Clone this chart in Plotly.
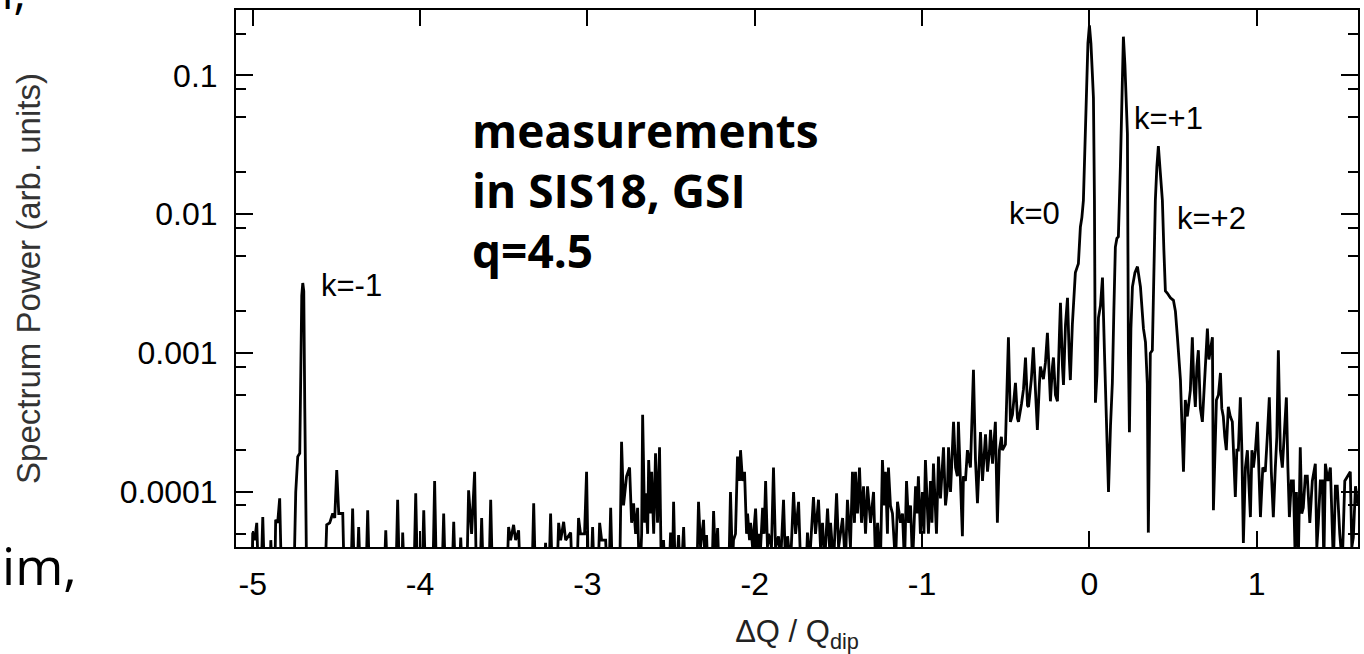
import math
import plotly.graph_objects as go

# ---------------- data ----------------
dq_far = [-5.100, -5.006, -5.000, -4.988, -4.976, -4.964, -4.952, -4.940, -4.928, -4.898,
          -4.892, -4.880, -4.869, -4.863, -4.851, -4.839, -4.827, -4.755, -4.743, -4.731,
          -4.719, -4.707, -4.701, -4.695, -4.689, -4.677, -4.570, -4.558, -4.540, -4.522,
          -4.510, -4.498, -4.486, -4.462, -4.452, -4.415, -4.403, -4.391, -4.379, -4.367,
          -4.355, -4.325, -4.313, -4.301, -4.217, -4.205, -4.193, -4.146, -4.134, -4.122,
          -4.110, -4.104, -4.092, -4.038, -4.026, -4.014, -3.990, -3.978, -3.966, -3.925,
          -3.913, -3.901, -3.871, -3.859, -3.847, -3.811, -3.799, -3.787, -3.769, -3.757,
          -3.745, -3.722, -3.710, -3.698, -3.692, -3.674, -3.662, -3.644, -3.632, -3.620,
          -3.590, -3.578, -3.566, -3.483, -3.471, -3.459, -3.441, -3.429, -3.411, -3.399,
          -3.333, -3.321, -3.309, -3.262, -3.250, -3.238, -3.232, -3.220, -3.208, -3.184,
          -3.172, -3.160, -3.142, -3.130, -3.100, -3.088, -3.065, -3.053, -3.041, -3.017,
          -3.005, -2.993, -2.981, -2.969, -2.957, -2.939, -2.927, -2.915, -2.891, -2.879,
          -2.873, -2.861, -2.849, -2.808, -2.796, -2.784, -2.766, -2.748, -2.736, -2.724,
          -2.712, -2.700, -2.688, -2.676, -2.670, -2.658, -2.652, -2.640, -2.634, -2.622,
          -2.616, -2.604, -2.593, -2.581, -2.569, -2.557, -2.545, -2.533]
pw_far = [2e-5, 2e-5, 5.1e-5, 4.5e-5, 6.0e-5, 2e-5, 2e-5, 6.6e-5, 2e-5, 2e-5,
          4.5e-5, 2e-5, 2e-5, 6.3e-5, 6.0e-5, 9.0e-5, 2e-5, 2e-5, 1.0e-4, 1.8e-4,
          1.9e-4, 2.6e-3, 3.2e-3, 2.8e-3, 4e-4, 2e-5, 2e-5, 5.8e-5, 6.0e-5, 7.0e-5,
          6.5e-5, 1.44e-4, 7e-5, 7e-5, 2e-5, 2e-5, 7.6e-5, 2e-5, 2e-5, 5.6e-5,
          2e-5, 2e-5, 7.4e-5, 2e-5, 2e-5, 5.3e-5, 2e-5, 2e-5, 8.8e-5, 2e-5,
          2e-5, 5.1e-5, 2e-5, 2e-5, 9.8e-5, 2e-5, 2e-5, 7.4e-5, 2e-5, 2e-5,
          1.2e-4, 2e-5, 2e-5, 7.0e-5, 2e-5, 2e-5, 6.1e-5, 2e-5, 2e-5, 4.7e-5,
          2e-5, 2e-5, 1.03e-4, 6e-5, 5e-5, 1.4e-4, 2e-5, 2e-5, 6.5e-5, 2e-5,
          2e-5, 8.8e-5, 2e-5, 2e-5, 5.6e-5, 4.5e-5, 5.8e-5, 4.5e-5, 5.3e-5, 2e-5,
          2e-5, 8.3e-5, 2e-5, 2e-5, 4.3e-5, 2e-5, 2e-5, 7.0e-5, 2e-5, 2e-5,
          6.0e-5, 4.5e-5, 6.1e-5, 4.5e-5, 5.1e-5, 2e-5, 2e-5, 6.5e-5, 5e-5, 5e-5,
          1.4e-4, 2e-5, 2e-5, 5.6e-5, 2e-5, 2e-5, 6e-5, 4.5e-5, 4.5e-5, 2e-5,
          2e-5, 7.7e-5, 2e-5, 2e-5, 2.3e-4, 8e-5, 1.3e-4, 1.5e-4, 6e-5, 8.3e-5,
          5e-5, 7.7e-5, 2e-5, 5e-5, 3.6e-4, 6e-5, 9.8e-5, 5e-5, 1.7e-4, 7e-5,
          1.4e-4, 5e-5, 1.9e-4, 6e-5, 2.1e-4, 2e-5, 4.5e-5, 2e-5]

dq_mid = [-2.515, -2.503, -2.491, -2.485, -2.473, -2.455, -2.443, -2.425, -2.413, -2.348,
          -2.336, -2.324, -2.306, -2.297, -2.288, -2.276, -2.258, -2.246, -2.234, -2.222,
          -2.210, -2.157, -2.145, -2.133, -2.127, -2.115, -2.103, -2.091, -2.085, -2.073,
          -2.061, -2.049, -2.043, -2.031, -2.025, -2.013, -1.995, -1.983, -1.977, -1.965,
          -1.953, -1.944, -1.935, -1.924, -1.918, -1.900, -1.888, -1.876, -1.858, -1.846,
          -1.828, -1.816, -1.804, -1.786, -1.768, -1.756, -1.738, -1.726, -1.697, -1.685,
          -1.673, -1.649, -1.637, -1.619, -1.607, -1.595, -1.583, -1.565, -1.553, -1.547,
          -1.529, -1.511, -1.499, -1.475, -1.458, -1.446, -1.428, -1.416, -1.404, -1.398,
          -1.386, -1.374, -1.362, -1.350, -1.338, -1.326, -1.308, -1.290, -1.278, -1.266,
          -1.249, -1.237, -1.225, -1.219, -1.207, -1.201, -1.189, -1.177, -1.159, -1.147,
          -1.129, -1.117, -1.105, -1.093, -1.081, -1.069, -1.057, -1.039, -1.030, -1.022,
          -1.010, -0.998, -0.989, -0.980, -0.968, -0.962, -0.950, -0.941, -0.932, -0.920,
          -0.914, -0.902, -0.890, -0.872, -0.860, -0.848, -0.842, -0.830, -0.812, -0.800,
          -0.789, -0.783, -0.771, -0.759, -0.753, -0.741, -0.729, -0.711, -0.693, -0.681,
          -0.669, -0.657, -0.651, -0.639, -0.627, -0.621, -0.609, -0.597, -0.591, -0.579,
          -0.562, -0.550, -0.538, -0.526, -0.520, -0.502, -0.484, -0.472, -0.460, -0.442,
          -0.430, -0.424, -0.406, -0.394, -0.382, -0.370, -0.364, -0.347, -0.335, -0.323,
          -0.311, -0.299, -0.293, -0.275, -0.263, -0.251, -0.239, -0.233, -0.221, -0.215,
          -0.203, -0.191, -0.179, -0.173, -0.161, -0.155, -0.143, -0.131, -0.120]
pw_mid = [2e-5, 5.1e-5, 3e-5, 8.5e-5, 2e-5, 4.9e-5, 2e-5, 5.6e-5, 2e-5, 2e-5,
          8.5e-5, 4e-5, 6.3e-5, 3e-5, 4.9e-5, 2e-5, 2e-5, 7.3e-5, 3e-5, 5.5e-5,
          2e-5, 2e-5, 1.0e-4, 3e-5, 4.5e-5, 5e-5, 1.8e-4, 1.2e-4, 2.0e-4, 1.2e-4,
          1.4e-4, 5e-5, 7e-5, 4.5e-5, 6e-5, 4e-5, 7.6e-5, 3.5e-5, 5e-5, 4e-5,
          7.7e-5, 5e-5, 1.2e-4, 4e-5, 5e-5, 4e-5, 1.5e-4, 4e-5, 4.8e-5, 3e-5,
          8.8e-5, 3e-5, 4.8e-5, 3e-5, 1.0e-4, 5e-5, 8.5e-5, 3e-5, 2e-5, 5.1e-5,
          3e-5, 9.2e-5, 5e-5, 8.8e-5, 4e-5, 6e-5, 3e-5, 7.6e-5, 4e-5, 6e-5,
          3e-5, 9.8e-5, 4e-5, 6.5e-5, 3e-5, 8.8e-5, 4e-5, 1.4e-4, 6e-5, 1.4e-4,
          7e-5, 1.5e-4, 6e-5, 1.1e-4, 5e-5, 1.1e-4, 6e-5, 1.0e-4, 3e-5, 6e-5,
          3e-5, 1.7e-4, 8e-5, 1.4e-4, 5e-5, 1.5e-4, 8e-5, 7e-5, 3e-5, 8.5e-5,
          6e-5, 7e-5, 3e-5, 1.2e-4, 6e-5, 8e-5, 3e-5, 1.1e-4, 7e-5, 1.3e-4,
          5e-5, 1.0e-4, 5e-5, 1.7e-4, 8e-5, 5e-5, 1.2e-4, 6e-5, 1.6e-4, 7e-5,
          5e-5, 1.8e-4, 9e-5, 2.1e-4, 8e-5, 1.1e-4, 2.1e-4, 1.0e-4, 3.2e-4, 1.5e-4,
          1.3e-4, 3.2e-4, 1.2e-4, 4.8e-5, 1.3e-4, 1.2e-4, 2.0e-4, 1.5e-4, 7.6e-4, 1.7e-4,
          8.3e-5, 2.0e-4, 2.7e-4, 1.2e-4, 2.3e-4, 2.6e-4, 1.4e-4, 2.0e-4, 2.8e-4, 1.6e-4,
          3.2e-4, 6e-5, 2.0e-4, 2.5e-4, 2.0e-4, 2.2e-4, 1.3e-3, 3.2e-4, 3.6e-4, 6.1e-4,
          3.4e-4, 3.2e-4, 4.3e-4, 5.5e-4, 9.3e-4, 4.2e-4, 4.1e-4, 6.5e-4, 1.1e-3, 5.0e-4,
          2.8e-4, 6.0e-4, 8.0e-4, 6.5e-4, 8.5e-4, 1.4e-3, 6.0e-4, 4.5e-4, 8.0e-4, 9.3e-4,
          5.0e-4, 4.5e-4, 1.4e-3, 2.3e-3, 8.0e-4, 5.9e-4, 1.6e-3, 2.5e-3, 9.0e-4]

dq_core = [-0.114, -0.102, -0.090, -0.084, -0.072, -0.066, -0.054, -0.045, -0.036, -0.027,
           -0.018, -0.009, 0.000, 0.009, 0.018, 0.024, 0.030, 0.033, 0.036, 0.045,
           0.054, 0.066, 0.078, 0.090, 0.102, 0.114, 0.126, 0.137, 0.146, 0.155,
           0.164, 0.173, 0.185, 0.194, 0.203, 0.212, 0.221, 0.227, 0.233, 0.239,
           0.248, 0.257, 0.272, 0.287, 0.305, 0.323, 0.335, 0.346, 0.352, 0.364,
           0.376, 0.388, 0.394, 0.403, 0.412, 0.421, 0.436, 0.445, 0.454, 0.466,
           0.484, 0.502, 0.514, 0.526, 0.544, 0.562, 0.573, 0.585]
pw_core = [6.4e-4, 1.6e-3, 3.0e-3, 3.8e-3, 4.2e-3, 4.4e-3, 8.1e-3, 9.5e-3, 0.0126, 0.030,
           0.088, 0.17, 0.229, 0.17, 0.10, 0.069, 0.0126, 2.5e-3, 4.4e-4, 7e-4,
           1.8e-3, 2.2e-3, 3.5e-3, 1.0e-3, 3.0e-4, 1.0e-4, 3.0e-4, 6.1e-4, 2.0e-3, 5.8e-3,
           6.7e-3, 6.9e-3, 0.022, 0.09, 0.19, 0.12, 0.06, 0.038, 1.0e-3, 2.7e-4,
           1.5e-3, 3.0e-3, 3.8e-3, 4.2e-3, 3.0e-3, 1.5e-3, 1.2e-3, 6.0e-4, 5.1e-5, 1.0e-3,
           1.05e-3, 5.5e-3, 0.0126, 0.022, 0.031, 0.022, 0.0126, 5.5e-3, 2.8e-3, 2.7e-3,
           2.5e-3, 2.4e-3, 2.0e-3, 1.3e-3, 6.4e-4, 1.4e-4, 4.6e-4, 3.5e-4]

dq_tail = [0.603, 0.615, 0.624, 0.633, 0.642, 0.651, 0.663, 0.675, 0.684, 0.693,
           0.705, 0.714, 0.723, 0.735, 0.741, 0.750, 0.759, 0.771, 0.783, 0.791,
           0.800, 0.809, 0.818, 0.830, 0.842, 0.854, 0.863, 0.872, 0.881, 0.890,
           0.902, 0.911, 0.920, 0.932, 0.944, 0.953, 0.962, 0.971, 0.980, 0.992,
           1.004, 1.013, 1.022, 1.036, 1.051, 1.063, 1.075, 1.087, 1.099, 1.111,
           1.120, 1.129, 1.141, 1.153, 1.165, 1.177, 1.186, 1.195, 1.207, 1.219,
           1.228, 1.237, 1.248, 1.260, 1.269, 1.278, 1.290, 1.302, 1.317, 1.332,
           1.350, 1.359, 1.368, 1.380, 1.392, 1.401, 1.410, 1.425, 1.440, 1.452,
           1.458, 1.470, 1.481, 1.496, 1.511, 1.526, 1.541, 1.559, 1.568, 1.577,
           1.590, 1.605]
pw_tail = [5.4e-4, 1.3e-3, 6.0e-4, 4.1e-4, 8.0e-4, 1.05e-3, 4.0e-4, 3.2e-4, 5.0e-4, 6.8e-4,
           1.5e-3, 9.0e-4, 1.05e-3, 1.3e-3, 7.4e-5, 2.5e-4, 4.6e-4, 5.0e-4, 7.2e-4, 4.0e-4,
           3.5e-4, 2.5e-4, 2.0e-4, 4.1e-4, 3.5e-4, 3.2e-4, 1.5e-4, 9.2e-5, 2.0e-4, 2.0e-4,
           4.8e-4, 2.0e-4, 4.3e-5, 1.5e-4, 2.0e-4, 1.0e-4, 6.6e-5, 2.0e-4, 1.5e-4, 2.0e-4,
           3.2e-4, 1.4e-4, 6.6e-5, 1.5e-4, 1.4e-4, 2.5e-4, 4.8e-4, 1.4e-4, 6.6e-5, 1.5e-4,
           2.5e-4, 1.05e-3, 2.0e-4, 1.5e-4, 2.5e-4, 4.8e-4, 1.5e-4, 6.6e-5, 1.2e-4, 1.2e-4,
           4e-5, 1.0e-4, 3e-5, 2.1e-4, 7.0e-5, 7.7e-5, 1.3e-4, 1.3e-4, 6.0e-5, 1.2e-4,
           1.6e-4, 4.0e-5, 6.0e-5, 1.2e-4, 1.2e-4, 3e-5, 1.6e-4, 1.2e-4, 1.5e-4, 6.0e-5,
           3e-5, 1.1e-4, 1.1e-4, 5.0e-5, 3.0e-5, 1.2e-4, 1.3e-4, 1.4e-4, 4.0e-5, 4.7e-5,
           1.1e-4, 8.0e-5]

x_ticks = [-5, -4, -3, -2, -1, 0, 1]
x_tick_text = ["-5", "-4", "-3", "-2", "-1", "0", "1"]
y_ticks = [1e-4, 1e-3, 1e-2, 1e-1]
y_tick_text = ["0.0001", "0.001", "0.01", "0.1"]
y_minor = [5e-5, 8e-5, 2e-4, 5e-4, 8e-4, 2e-3, 5e-3, 8e-3, 2e-2, 5e-2, 8e-2, 0.2]

peak_labels = ["k=-1", "k=0", "k=+1", "k=+2"]
peak_x = [-4.409, -0.329, 0.472, 0.729]
peak_y = [3.08e-3, 1.02e-2, 4.9e-2, 9.35e-3]

info_lines = ["measurements", "in SIS18, GSI", "q=4.5"]

dq = dq_far + dq_mid + dq_core + dq_tail
pw = pw_far + pw_mid + pw_core + pw_tail

# ---------------- figure ----------------
SANS = "Liberation Sans, Arial, sans-serif"
SLIDE = "Open Sans, Noto Sans, sans-serif"

fig = go.Figure()
fig.add_trace(go.Scatter(x=dq, y=pw, mode="lines",
                         line=dict(color="black", width=2.8),
                         showlegend=False, hoverinfo="skip"))

tick_font = dict(family=SANS, size=32, color="black")

fig.update_layout(
    width=1364, height=654,
    margin=dict(l=236, r=6, t=10, b=107, pad=0),
    paper_bgcolor="white", plot_bgcolor="white",
    xaxis=dict(range=[-5.1, 1.605], tickmode="array", tickvals=x_ticks, ticktext=x_tick_text,
               ticks="inside", ticklen=16, tickwidth=2, tickcolor="black",
               showline=True, linecolor="black", linewidth=2, mirror="allticks",
               showgrid=False, zeroline=False, tickfont=tick_font,
               ticklabelstandoff=8, automargin=False,
               title=dict(text="ΔQ / Q<sub>dip</sub>", standoff=19,
                          font=dict(family=SANS, size=31, color="#222"))),
    yaxis=dict(type="log", range=[-4.396, -0.529], tickmode="array",
               tickvals=y_ticks, ticktext=y_tick_text,
               ticks="inside", ticklen=17, tickwidth=2, tickcolor="black",
               minor=dict(tickvals=y_minor, ticks="inside", ticklen=10, tickwidth=2,
                          tickcolor="black", showgrid=False),
               showline=True, linecolor="black", linewidth=2, mirror="allticks",
               showgrid=False, zeroline=False, tickfont=tick_font,
               ticklabelstandoff=10, automargin=False,
               title=dict(text="Spectrum Power (arb. units)", standoff=69,
                          font=dict(family=SANS, size=33, color="#333"))),
)

annotations = []
for txt, xv, yv in zip(peak_labels, peak_x, peak_y):
    annotations.append(dict(x=xv, y=math.log10(yv), xref="x", yref="y", text=txt,
                            showarrow=False, xanchor="center", yanchor="middle",
                            font=dict(family=SANS, size=31, color="black")))

# the three bold lines as one block of text
annotations.append(dict(x=0.2086, y=0.665, xref="paper", yref="paper",
                        text="<br>".join("<b>" + t + "</b>" for t in info_lines),
                        showarrow=False, xanchor="left", yanchor="middle", align="left",
                        font=dict(family=SLIDE, size=46, color="black")))

# fragments of surrounding slide text, cut by the picture edge
annotations.append(dict(x=-0.2103, y=-0.032, xref="paper", yref="paper", text="im,",
                        showarrow=False, xanchor="left", yanchor="middle",
                        font=dict(family=SLIDE, size=52, color="black")))
annotations.append(dict(x=-0.1854, y=1.036, xref="paper", yref="paper", text="m,",
                        showarrow=False, xanchor="right", yanchor="middle",
                        font=dict(family=SLIDE, size=48, color="black")))

fig.update_layout(annotations=annotations)

fig.write_html("out.html")
